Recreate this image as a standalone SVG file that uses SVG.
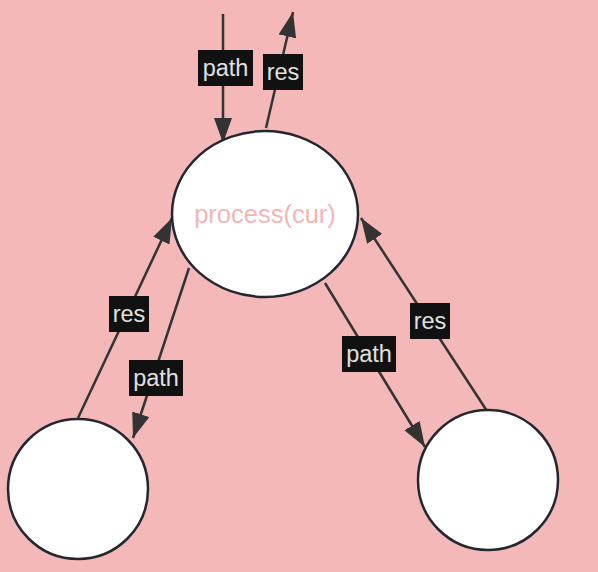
<svg xmlns="http://www.w3.org/2000/svg" width="598" height="572" viewBox="0 0 598 572">
<style>
.node{fill:#fff;stroke:#23272e;stroke-width:2.5}
.edge{stroke:#333;stroke-width:2.5;fill:none}
.lbox{fill:#111}
.ltxt{fill:#e0e0e0;font-family:"Liberation Sans",Arial,sans-serif;font-size:23.5px;text-anchor:middle;dominant-baseline:central}
.ntxt{fill:#f5b5b5;font-family:"Liberation Sans",Arial,sans-serif;font-size:25.5px;text-anchor:middle;dominant-baseline:central}
</style>
<defs>
<marker id="a" viewBox="0 0 25 18" refX="25" refY="9" markerWidth="25" markerHeight="18" markerUnits="userSpaceOnUse" orient="auto">
<path d="M0,0 L25,9 L0,18 z" fill="#333"/>
</marker>
</defs>
<rect width="598" height="572" fill="#f5b8b8"/>
<g id="edges">
<line class="edge" x1="223" y1="14" x2="223" y2="143" marker-end="url(#a)"/>
<line class="edge" x1="266" y1="128" x2="293" y2="12" marker-end="url(#a)"/>
<line class="edge" x1="78" y1="418" x2="172" y2="218" marker-end="url(#a)"/>
<line class="edge" x1="189" y1="268" x2="133" y2="438" marker-end="url(#a)"/>
<line class="edge" x1="325" y1="283" x2="425" y2="447" marker-end="url(#a)"/>
<line class="edge" x1="487" y1="411" x2="361" y2="218" marker-end="url(#a)"/>
</g>
<g id="labels">
<rect class="lbox" x="198" y="50" width="55" height="36"/><text class="ltxt" x="225.5" y="68">path</text>
<rect class="lbox" x="263" y="54" width="40" height="36"/><text class="ltxt" x="283" y="72">res</text>
<rect class="lbox" x="109" y="296" width="40" height="36"/><text class="ltxt" x="129" y="314">res</text>
<rect class="lbox" x="129" y="360" width="54" height="36"/><text class="ltxt" x="156" y="378">path</text>
<rect class="lbox" x="342" y="336" width="54" height="36"/><text class="ltxt" x="369" y="354">path</text>
<rect class="lbox" x="410" y="303" width="40" height="36"/><text class="ltxt" x="430" y="321">res</text>
</g>
<g id="process">
<ellipse class="node" cx="265" cy="214" rx="93" ry="83"/>
<text class="ntxt" x="265" y="214">process(cur)</text>
</g>
<g id="left">
<ellipse class="node" cx="78" cy="489" rx="70" ry="70"/>
</g>
<g id="right">
<ellipse class="node" cx="488" cy="480" rx="70" ry="70"/>
</g>
</svg>
